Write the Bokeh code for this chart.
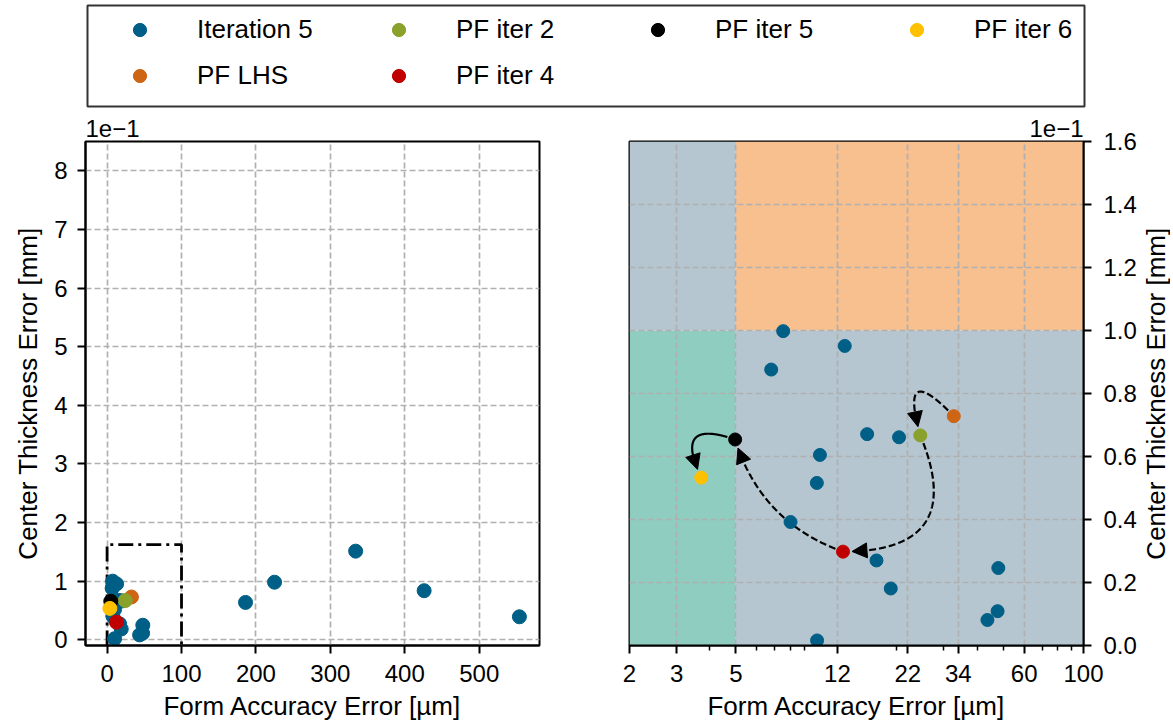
import math
import numpy as np
from bokeh.plotting import figure
from bokeh.models import (Legend, LegendItem, FixedTicker, Arrow, NormalHead, Label,
                          NumeralTickFormatter, Title)
from bokeh.layouts import column, row
from bokeh.embed import file_html
from bokeh.resources import INLINE

FONT = "Liberation Sans"

# ---------------- data ----------------
# x: Form Accuracy Error [µm]; y: Center Thickness Error in units of 1e-1 mm
iter5_x = [7.52, 12.78, 6.78, 15.5, 20.4, 10.32, 10.05, 8.01, 16.8, 19.0,
           48.0, 47.7, 43.7, 10.07, 186.0, 225.0, 334.0, 426.0, 554.0]
iter5_y = [0.998, 0.951, 0.876, 0.671, 0.661, 0.605, 0.516, 0.392, 0.27, 0.181,
           0.246, 0.109, 0.081, 0.016, 0.635, 0.98, 1.51, 0.835, 0.39]

pf_labels = ["PF LHS", "PF iter 2", "PF iter 4", "PF iter 5", "PF iter 6"]
pf_x = [32.7, 24.5, 12.59, 4.97, 3.71]
pf_y = [0.728, 0.667, 0.298, 0.654, 0.533]

series_colors = {
    "Iteration 5": "#005f86",
    "PF LHS": "#cd6515",
    "PF iter 2": "#8aa12c",
    "PF iter 4": "#c00000",
    "PF iter 5": "#000000",
    "PF iter 6": "#ffc000",
}
legend_order = ["Iteration 5", "PF iter 2", "PF iter 5", "PF iter 6", "PF LHS", "PF iter 4"]

left_xticks = [0, 100, 200, 300, 400, 500]
left_yticks = [0, 1, 2, 3, 4, 5, 6, 7, 8]
right_xticks = [2, 3, 5, 12, 22, 34, 60, 100]
right_xminor = [4, 6, 7, 8, 9, 20, 30, 40, 50, 70, 80, 90]
right_yticks = [0.0, 0.2, 0.4, 0.6, 0.8, 1.0, 1.2, 1.4, 1.6]

# requirement zones of the zoomed panel
zone_left = [2, 2, 5, 5]
zone_right = [5, 5, 100, 100]
zone_bottom = [0, 1.0, 1.0, 0]
zone_top = [1.0, 1.6, 1.6, 1.0]
zone_colors = ["#8ecdbf", "#b5c6d0", "#f8bf8f", "#b5c6d0"]

# zoom window drawn on the overview panel
zoom_x = [0, 100]
zoom_top = 1.62

# curved arrows between consecutive Pareto-front points (arc3 curvature)
arrow_rad = [2.0, -0.75, -0.25, 1.2]
arrow_dash = ["7 3", "7 3", "7 3", "solid"]

XLABEL = "Form Accuracy Error [µm]"
YLABEL = "Center Thickness Error [mm]"

LEFT_XR = (-29, 581)
LEFT_YR = (-0.1, 8.5)
RIGHT_XR = (2, 100)
RIGHT_YR = (0, 1.6)
FW, FH = 454, 504
TOP, BOTTOM = 33, 81


def style_axis(ax, label_standoff=8, tick_standoff=8):
    ax.major_label_text_font = FONT
    ax.major_label_text_font_size = "24px"
    ax.major_label_text_color = "black"
    ax.axis_label_text_font = FONT
    ax.axis_label_text_font_size = "26px"
    ax.axis_label_text_font_style = "normal"
    ax.axis_label_text_color = "black"
    ax.major_tick_out = 8
    ax.major_tick_in = 0
    ax.minor_tick_out = 5
    ax.minor_tick_in = 0
    ax.major_tick_line_width = 2
    ax.minor_tick_line_width = 1.5
    ax.axis_line_width = 2
    ax.axis_line_color = "black"
    ax.major_tick_line_color = "black"
    ax.minor_tick_line_color = "black"
    ax.major_label_standoff = tick_standoff
    ax.axis_label_standoff = label_standoff


def style_grid(p):
    for g in (p.xgrid[0], p.ygrid[0]):
        g.grid_line_color = "#b0b0b0"
        g.grid_line_alpha = 1.0
        g.grid_line_width = 1.7
        g.grid_line_dash = "6 3"


def exp_title(align):
    return Title(text="1e−1", align=align, text_font=FONT, text_font_size="24px",
                 text_font_style="normal", text_color="black", standoff=10)


# ---------------- left (overview) panel ----------------
pl = figure(frame_width=FW, frame_height=FH, x_range=LEFT_XR, y_range=LEFT_YR,
            min_border_left=85, min_border_right=10, min_border_top=TOP, min_border_bottom=BOTTOM,
            output_backend="svg", toolbar_location=None)
pl.title = exp_title("left")
pl.outline_line_color = "black"
pl.outline_line_width = 2
pl.xaxis.ticker = FixedTicker(ticks=left_xticks)
pl.yaxis.ticker = FixedTicker(ticks=left_yticks)
pl.xaxis.axis_label = XLABEL
pl.yaxis.axis_label = YLABEL
style_axis(pl.xaxis[0], label_standoff=6, tick_standoff=11)
style_axis(pl.yaxis[0], label_standoff=8, tick_standoff=10)
style_grid(pl)

pl.line(x=[zoom_x[0], zoom_x[0], zoom_x[1], zoom_x[1]],
        y=[LEFT_YR[0], zoom_top, zoom_top, LEFT_YR[0]],
        line_color="black", line_width=2.8, line_dash="15 5 3 5")

pl.scatter(iter5_x, iter5_y, size=14, color=series_colors["Iteration 5"])
for lab, x, y in zip(pf_labels, pf_x, pf_y):
    pl.scatter([x], [y], size=14, color=series_colors[lab])

# ---------------- right (zoomed, log-x) panel ----------------
pr = figure(frame_width=FW, frame_height=FH, x_axis_type="log", x_range=RIGHT_XR, y_range=RIGHT_YR,
            y_axis_location="right",
            min_border_left=80, min_border_right=57, min_border_top=TOP, min_border_bottom=BOTTOM,
            output_backend="svg", toolbar_location=None)
pr.title = exp_title("right")
pr.outline_line_color = "black"
pr.outline_line_width = 2
pr.xaxis.ticker = FixedTicker(ticks=right_xticks, minor_ticks=right_xminor)
pr.xaxis.formatter = NumeralTickFormatter(format="0")
pr.yaxis.ticker = FixedTicker(ticks=right_yticks)
pr.yaxis.formatter = NumeralTickFormatter(format="0.0")
pr.xaxis.axis_label = XLABEL
style_axis(pr.xaxis[0], label_standoff=6, tick_standoff=11)
style_axis(pr.yaxis[0], label_standoff=4, tick_standoff=12)
style_grid(pr)

pr.quad(left=zone_left, right=zone_right, bottom=zone_bottom, top=zone_top,
        fill_color=zone_colors, line_color=None, level="image")

# curved arrows (quadratic Bezier in screen space, like matplotlib arc3)
lgx0, lgx1 = math.log10(RIGHT_XR[0]), math.log10(RIGHT_XR[1])


def to_px(x, y):
    return ((math.log10(x) - lgx0) / (lgx1 - lgx0) * FW,
            (y - RIGHT_YR[0]) / (RIGHT_YR[1] - RIGHT_YR[0]) * FH)


def to_data(sx, sy):
    sx = np.asarray(sx)
    sy = np.asarray(sy)
    return (10 ** (lgx0 + sx / FW * (lgx1 - lgx0)),
            RIGHT_YR[0] + sy / FH * (RIGHT_YR[1] - RIGHT_YR[0]))


SHRINK_A, SHRINK_B, HEAD = 8, 9, 15
for i, (rad, dash) in enumerate(zip(arrow_rad, arrow_dash)):
    ax_, ay_ = to_px(pf_x[i], pf_y[i])
    bx_, by_ = to_px(pf_x[i + 1], pf_y[i + 1])
    mx, my = (ax_ + bx_) / 2, (ay_ + by_) / 2
    dx, dy = bx_ - ax_, by_ - ay_
    cx, cy = mx + rad * dy, my - rad * dx
    t = np.linspace(0, 1, 600)
    px = (1 - t) ** 2 * ax_ + 2 * t * (1 - t) * cx + t ** 2 * bx_
    py = (1 - t) ** 2 * ay_ + 2 * t * (1 - t) * cy + t ** 2 * by_
    s = np.concatenate([[0], np.cumsum(np.hypot(np.diff(px), np.diff(py)))])
    tip_s = s[-1] - SHRINK_B
    base_s = tip_s - HEAD
    keep = (s >= SHRINK_A) & (s <= base_s + 1)
    lx, ly = to_data(px[keep], py[keep])
    pr.line(lx, ly, line_color="black", line_width=2.2, line_dash=dash)
    tx, ty = to_data(np.interp(tip_s, s, px), np.interp(tip_s, s, py))
    hx, hy = to_data(np.interp(base_s, s, px), np.interp(base_s, s, py))
    pr.add_layout(Arrow(end=NormalHead(size=HEAD, fill_color="black", line_color="black", line_width=1),
                        x_start=float(hx), y_start=float(hy), x_end=float(tx), y_end=float(ty),
                        line_alpha=0))

pr.scatter(iter5_x, iter5_y, size=13, color=series_colors["Iteration 5"])
for lab, x, y in zip(pf_labels, pf_x, pf_y):
    pr.scatter([x], [y], size=13, color=series_colors[lab])

# right-hand y-axis title (reads bottom-to-top, as on the left panel)
yl = figure(frame_width=30, frame_height=FH, min_border_left=0, min_border_right=0,
            min_border_top=TOP, min_border_bottom=BOTTOM, x_axis_type=None, y_axis_type=None,
            x_range=(0, 1), y_range=(0, 1), output_backend="svg", toolbar_location=None)
yl.outline_line_color = None
yl.add_layout(Label(x=0.5, y=0.5, text=YLABEL, angle=math.pi / 2, text_align="center",
                    text_baseline="middle", text_font=FONT, text_font_size="26px",
                    text_color="black"))

# ---------------- legend strip ----------------
lf = figure(frame_width=997, frame_height=101, min_border_left=87, min_border_right=86,
            min_border_top=5, min_border_bottom=2, x_axis_type=None, y_axis_type=None,
            x_range=(0, 1), y_range=(0, 1), output_backend="svg", toolbar_location=None)
lf.outline_line_color = "#333333"
lf.outline_line_width = 2
items = []
for name in legend_order:
    r = lf.scatter(x=[0.5], y=[0.5], size=13, color=series_colors[name], visible=False)
    items.append(LegendItem(label=name, renderers=[r]))
leg = Legend(items=items, location=(0, 14), orientation="horizontal", ncols=4,
             padding=0, margin=0, spacing=13, glyph_width=105, glyph_height=33,
             label_height=33, label_width=136, label_standoff=5,
             border_line_alpha=0, background_fill_alpha=0, inactive_fill_alpha=0,
             label_text_font=FONT, label_text_font_size="26px", label_text_color="black")
lf.add_layout(leg)

layout = column(lf, row(pl, pr, yl))
open("out.html", "w").write(file_html(layout, INLINE))
